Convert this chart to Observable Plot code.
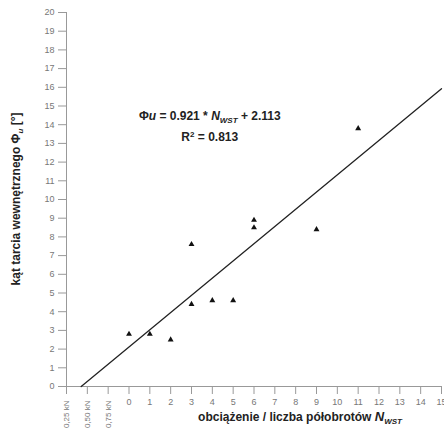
<!DOCTYPE html>
<html><head><meta charset="utf-8">
<script src="https://cdn.jsdelivr.net/npm/d3@7"></script>
<script src="https://cdn.jsdelivr.net/npm/@observablehq/plot@0.6"></script>
<style>body{margin:0;background:#fff;font-family:Arial,"Liberation Sans",sans-serif}</style>
</head><body><div id="chart"></div>
<script>
const nwst = [0, 1, 2, 3, 3, 4, 5, 6, 6, 9, 11];
const phi = [2.8, 2.8, 2.5, 7.6, 4.4, 4.6, 4.6, 8.9, 8.5, 8.4, 13.8];
const loadTicks = [-3, -2, -1];
const loadLabels = ['0,25 kN', '0,50 kN', '0,75 kN'];
const slope = 0.921, intercept = 2.113;
const fitX = [-intercept / slope, 15];

const pts = nwst.map((x, i) => ({x, y: phi[i]}));
const fit = fitX.map(x => ({x, y: slope * x + intercept}));

const chart = Plot.plot({
  width: 444, height: 437,
  marginLeft: 66, marginRight: 3, marginTop: 12, marginBottom: 51,
  style: {fontFamily: 'Arial, "Liberation Sans", sans-serif', fontSize: '9px', color: '#777'},
  x: {domain: [-3, 15]},
  y: {domain: [0, 20]},
  marks: [
    Plot.axisY({ticks: d3.range(0, 21), tickSize: 8, tickPadding: 4, label: null, stroke: '#999', fill: '#777'}),
    Plot.axisX({ticks: d3.range(0, 16), tickSize: 8, tickPadding: 4, label: null, stroke: '#999', fill: '#777'}),
    Plot.axisX({ticks: loadTicks, tickSize: 8, tickRotate: -90, tickPadding: 6, label: null, stroke: '#999', fill: '#777',
      tickFormat: d => loadLabels[loadTicks.indexOf(d)], fontSize: 8}),
    Plot.ruleX([-3], {stroke: '#999'}),
    Plot.ruleY([0], {stroke: '#999'}),
    Plot.line(fit, {x: 'x', y: 'y', stroke: '#222', strokeWidth: 1.3}),
    Plot.dot(pts, {x: 'x', y: 'y', symbol: 'triangle', r: 2.2, fill: '#111'})
  ]
});
const svg = d3.select(chart);
const sx = chart.scale('x'), sy = chart.scale('y');
const xl = svg.append('text').attr('x', 300).attr('y', 421).attr('text-anchor', 'middle')
  .attr('font-size', 12).attr('font-weight', 'bold').attr('fill', '#222');
xl.append('tspan').text('obciążenie / liczba półobrotów ');
xl.append('tspan').attr('font-style', 'italic').attr('font-size', 13).text('N');
xl.append('tspan').attr('font-style', 'italic').attr('font-size', 8).attr('dy', 3).text('WST');

const yl = svg.append('text').attr('transform', 'translate(20,199) rotate(-90)').attr('text-anchor', 'middle')
  .attr('font-size', 12).attr('font-weight', 'bold').attr('fill', '#222');
yl.append('tspan').text('kąt tarcia wewnętrznego Φ');
yl.append('tspan').attr('font-style', 'italic').attr('font-size', 8).attr('dy', 3).text('u');
yl.append('tspan').attr('dy', -3).text(' [°]');

const eq = svg.append('text').attr('x', sx.apply(3.9)).attr('y', sy.apply(14.2)).attr('text-anchor', 'middle')
  .attr('font-size', 12).attr('font-weight', 'bold').attr('fill', '#222');
eq.append('tspan').text('Φ');
eq.append('tspan').attr('font-style', 'italic').text('u');
eq.append('tspan').text(' = 0.921 * ');
eq.append('tspan').attr('font-style', 'italic').text('N');
eq.append('tspan').attr('font-style', 'italic').attr('font-size', 8).attr('dy', 3).text('WST');
eq.append('tspan').attr('dy', -3).text(' + 2.113');
const r2 = svg.append('text').attr('x', sx.apply(3.9)).attr('y', sy.apply(13.1)).attr('text-anchor', 'middle')
  .attr('font-size', 12).attr('font-weight', 'bold').attr('fill', '#222');
r2.append('tspan').text('R');
r2.append('tspan').attr('font-size', 8).attr('dy', -4).text('2');
r2.append('tspan').attr('dy', 4).text(' = 0.813');
d3.select('#chart').append(() => chart);
</script></body></html>
